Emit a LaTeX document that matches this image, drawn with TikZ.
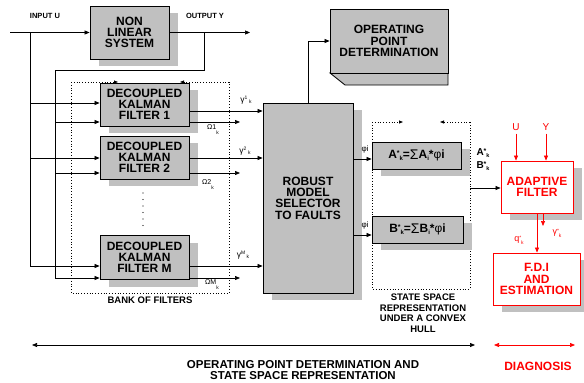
\documentclass[tikz,border=0pt]{standalone}
\usepackage{fontspec}
\setmainfont{Liberation Sans}
\usetikzlibrary{arrows.meta,shadows}
\definecolor{boxgray}{RGB}{192,192,192}
\newcommand\mygam[2]{γ\raisebox{3pt}{\fontsize{5}{5}\selectfont #1}\hspace{1.5pt}\raisebox{-1.5pt}{\fontsize{5}{5}\selectfont #2}}
\newcommand\myom[1]{Ω#1\raisebox{-5pt}{\fontsize{5}{5}\selectfont k}}
\begin{document}
\begin{tikzpicture}[x=1pt,y=-1pt,
  font=\fontsize{12}{11.3}\selectfont\bfseries,
  >={Triangle[length=5pt,width=4pt]},
  sh/.style={drop shadow={shadow xshift=9pt,shadow yshift=-7pt,fill=boxgray,opacity=1,draw=none}},
  gbox/.style={draw=black,fill=boxgray,line width=0.8pt,align=center,inner sep=0pt,sh},
  rbox/.style={draw=red,fill=white,line width=0.9pt,align=center,text=red,inner sep=0pt,sh},
  ln/.style={line width=0.7pt},
  dots/.style={dotted,line width=0.8pt},
  lab/.style={font=\fontsize{7}{7}\selectfont\mdseries,inner sep=0pt},
  blab/.style={font=\fontsize{7.5}{8}\selectfont\bfseries,inner sep=0pt},
]
\useasboundingbox (0,0) rectangle (584,383);

% dotted group boxes
\draw[dots] (71,82) -- (71,293) -- (229,293) -- (229,82);
\draw[dots,-{Triangle[length=4pt,width=3pt]}] (71,82) -- (118,82);
\draw[dots,-{Triangle[length=4pt,width=3pt]}] (229,82) -- (180,82);
\draw[dots] (372,122) -- (372,289) -- (470,289) -- (470,122);
\draw[dots,-{Triangle[length=4pt,width=3pt]}] (372,122) -- (403,122);
\draw[dots,-{Triangle[length=4pt,width=3pt]}] (470,122) -- (440,122);

% boxes
\node[gbox,minimum width=79pt,minimum height=53pt] (nls) at (129.5,32.5) {NON\\LINEAR\\SYSTEM};
\node[gbox,minimum width=89pt,minimum height=43pt] (f1) at (144.5,104.5) {DECOUPLED\\KALMAN\\FILTER 1};
\node[gbox,minimum width=89pt,minimum height=43pt] (f2) at (144.5,157.5) {DECOUPLED\\KALMAN\\FILTER 2};
\node[gbox,minimum width=89pt,minimum height=44pt] (fM) at (144.5,257.5) {DECOUPLED\\KALMAN\\FILTER M};
\node[gbox,minimum width=90pt,minimum height=190pt] (rob) at (308,198) {ROBUST\\MODEL\\SELECTOR\\TO FAULTS};
\draw[fill=boxgray,line width=0.8pt] (330,73) -- (345,85) -- (448,85) -- (448,73) -- cycle;
\node[draw=black,fill=boxgray,line width=0.8pt,align=center,inner sep=0pt,minimum width=118pt,minimum height=64pt] (opd) at (389,41) {OPERATING\\POINT\\DETERMINATION};
\node[gbox,minimum width=89pt,minimum height=27pt] (A) at (416.5,155.5) {A\raisebox{3pt}{\fontsize{7}{7}\selectfont *}\raisebox{-2pt}{\fontsize{6}{6}\selectfont k}=\raisebox{-0.5pt}{\fontsize{14}{14}\selectfont\mdseries Σ}A\raisebox{-2pt}{\fontsize{6}{6}\selectfont i}*{\mdseries φ}i};
\node[gbox,minimum width=91pt,minimum height=27pt] (B) at (417.5,229.5) {B\raisebox{3pt}{\fontsize{7}{7}\selectfont *}\raisebox{-2pt}{\fontsize{6}{6}\selectfont k}=\raisebox{-0.5pt}{\fontsize{14}{14}\selectfont\mdseries Σ}B\raisebox{-2pt}{\fontsize{6}{6}\selectfont i}*{\mdseries φ}i};
\node[rbox,minimum width=72pt,minimum height=52pt] (ada) at (537,187) {ADAPTIVE\\FILTER};
\node[rbox,minimum width=87pt,minimum height=52pt] (fdi) at (536.5,279) {F.D.I\\AND\\ESTIMATION};

% labels
\node[blab] (inlab) at (45,16) {INPUT U};
\node[blab] (outlab) at (205,16) {OUTPUT Y};
\node[lab,font=\fontsize{8.5}{8.5}\selectfont] (g1) at (246,100) {\mygam{1}{k}};
\node[lab,font=\fontsize{8.5}{8.5}\selectfont] (g2) at (245,151) {\mygam{2}{k}};
\node[lab,font=\fontsize{8.5}{8.5}\selectfont] (gM) at (243,255) {\mygam{M}{k}};
\node[lab] (o1) at (213,130) {\myom{1}};
\node[lab] (o2) at (208,185) {\myom{2}};
\node[lab] (oM) at (212,285) {\myom{M}};
\node[lab,font=\fontsize{8}{8}\selectfont] (p1) at (365,149) {φi};
\node[lab,font=\fontsize{8}{8}\selectfont] (p2) at (365,225) {φi};
\node[inner sep=0pt,font=\fontsize{10}{10}\selectfont\bfseries] (ak) at (483,153) {A\raisebox{2pt}{\fontsize{7}{7}\selectfont *}\raisebox{-2.5pt}{\fontsize{5.5}{5.5}\selectfont k}};
\node[inner sep=0pt,font=\fontsize{10}{10}\selectfont\bfseries] (bk) at (483,166) {B\raisebox{2pt}{\fontsize{7}{7}\selectfont *}\raisebox{-2.5pt}{\fontsize{5.5}{5.5}\selectfont k}};
\node[lab,text=red,font=\fontsize{10}{10}\selectfont] (U) at (516,127) {U};
\node[lab,text=red,font=\fontsize{10}{10}\selectfont] (Y) at (546,127) {Y};
\node[lab,text=red,font=\fontsize{9}{9}\selectfont] (qk) at (519,240) {q\raisebox{2.5pt}{\fontsize{5}{5}\selectfont *}\raisebox{-2.5pt}{\fontsize{5}{5}\selectfont k}};
\node[lab,text=red,font=\fontsize{9}{9}\selectfont] (gk) at (557,233) {γ\raisebox{2.5pt}{\fontsize{5}{5}\selectfont *}\raisebox{-2.5pt}{\fontsize{5}{5}\selectfont k}};
\node[inner sep=0pt,font=\fontsize{9.5}{10}\selectfont\bfseries] (bank) at (150,300) {BANK OF FILTERS};
\node[inner sep=0pt,align=center,font=\fontsize{9.5}{10.5}\selectfont\bfseries] (ss) at (423,313) {STATE SPACE\\REPRESENTATION\\UNDER A CONVEX\\HULL};
\node[inner sep=0pt,align=center,font=\fontsize{11.5}{11.5}\selectfont\bfseries] (opdl) at (303,370) {OPERATING POINT DETERMINATION AND\\STATE SPACE REPRESENTATION};
\node[inner sep=0pt,text=red,font=\fontsize{12}{12}\selectfont\bfseries] (diag) at (538,366) {DIAGNOSIS};

% vertical dots
\foreach \yy in {193,199.5,...,226} \fill (143,\yy) circle (0.6pt);

% connectors
\coordinate (inU) at (10,32.5);
\coordinate (outY) at (250,32.5);
\coordinate (jin) at (30,32.5);
\coordinate (jfb) at (204,32.5);
\draw[ln,->] (inU) -- (nls.west);
\draw[ln,->] (nls.east) -- (outY);
\draw[ln] (jin) -- (30,266);
\draw[ln] (jfb) -- (204,70) -- (55,70) -- (55,278);
\draw[ln,->] (30,103) -- (f1.west |- 0,103);
\draw[ln,->] (30,158) -- (f2.west |- 0,158);
\draw[ln,->] (30,266) -- (fM.west |- 0,266);
\draw[ln,->] (55,122) -- (f1.west |- 0,122);
\draw[ln,->] (55,173) -- (f2.west |- 0,173);
\draw[ln,->] (55,278) -- (fM.west |- 0,278);
\draw[ln,->] (f1.east |- 0,111) -- (rob.west |- 0,111);
\draw[ln,->] (f2.east |- 0,158) -- (rob.west |- 0,158);
\draw[ln,->] (fM.east |- 0,266) -- (rob.west |- 0,266);
\draw[ln,->] (f1.east |- 0,122) -- (240,122);
\draw[ln,->] (f2.east |- 0,173) -- (240,173);
\draw[ln,->] (fM.east |- 0,278) -- (240,278);
\draw[ln,->] (rob.north) |- (opd.west);
\draw[ln,->] (rob.east |- 0,159) -- (A.west |- 0,159);
\draw[ln,->] (rob.east |- 0,235) -- (B.west |- 0,235);
\draw[ln,->] (470,188) -- (ada.west |- 0,188);
\draw[ln,red,->] (U.south) ++(0,3) -- (ada.north -| U.south);
\draw[ln,red,->] (Y.south) ++(0,3) -- (ada.north -| Y.south);
\draw[ln,red,->] (ada.south) -- (ada.south |- fdi.north);
\draw[ln,red,->] (543,213) -- (543,226);
\draw[ln,<->] (32,345) -- (475,345);
\draw[ln,red,<->] (494,345) -- (575,345);
\end{tikzpicture}
\end{document}
